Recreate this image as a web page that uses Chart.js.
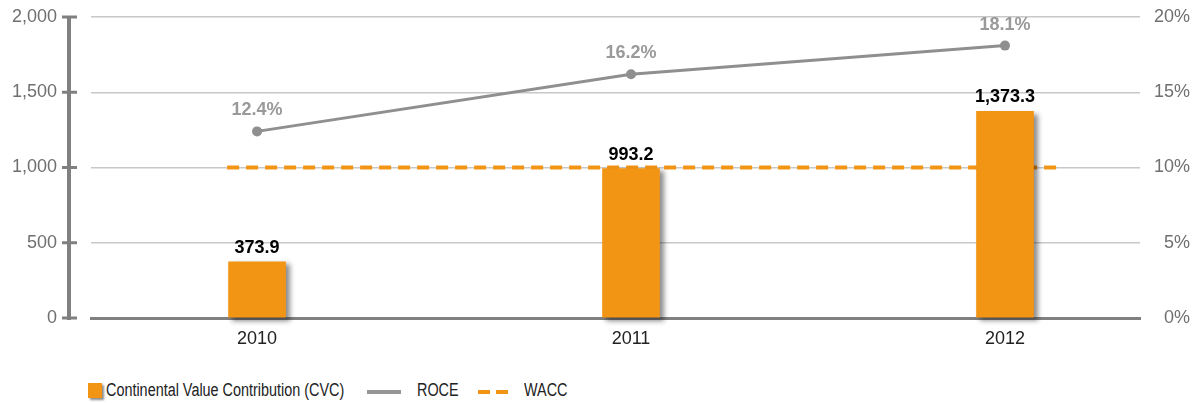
<!DOCTYPE html>
<html>
<head>
<meta charset="utf-8">
<script src="https://cdn.jsdelivr.net/npm/chart.js@4"></script>
<style>
  html, body { margin: 0; padding: 0; background: #fff; }
  #wrap { position: relative; width: 1194px; height: 403px; font-family: "Liberation Sans", Arial, sans-serif; }
  #cvc-chart { position: absolute; left: 0; top: 0; }
  .lg { position: absolute; }
  .lg-text { font-size: 18px; color: #222; top: 380px; transform: scaleX(0.8); transform-origin: left center; white-space: nowrap; }
</style>
</head>
<body>
<div id="wrap">
  <canvas id="cvc-chart" width="1194" height="360"></canvas>
  <div class="lg" style="left:88px; top:383px; width:14px; height:15px; background:#f39514; box-shadow:2px 2px 2px rgba(0,0,0,0.45);"></div>
  <div class="lg lg-text" style="left:106px;">Continental Value Contribution (CVC)</div>
  <div class="lg" style="left:367px; top:390px; width:34px; height:4px; background:#969696;"></div>
  <div class="lg lg-text" style="left:417px;">ROCE</div>
  <div class="lg" style="left:478px; top:390px; width:12px; height:4px; background:#f39514;"></div>
  <div class="lg" style="left:496px; top:390px; width:12px; height:4px; background:#f39514;"></div>
  <div class="lg lg-text" style="left:524px;">WACC</div>
</div>
<script>
const years = ['2010', '2011', '2012'];
const cvc = [373.9, 993.2, 1373.3];       // EUR millions
const roce = [12.4, 16.2, 18.1];          // %
const wacc = 10;                          // %
const waccSpan = [-0.08, 2.15];           // x range of the WACC line (year index units)

const ORANGE = '#f39514';
const GREY = '#8f8f8f';

const fmt = (v, d) => v.toLocaleString('en-US', { minimumFractionDigits: d, maximumFractionDigits: d });

// left axis is drawn a bit away from the plot, with tick marks on both sides
const sideAxis = {
  id: 'sideAxis',
  afterDraw(chart) {
    const { ctx, chartArea, scales } = chart;
    const y = scales.y;
    const x = chartArea.left - 22;
    ctx.save();
    ctx.strokeStyle = '#808080';
    ctx.lineWidth = 4;
    ctx.beginPath();
    ctx.moveTo(x, y.getPixelForValue(2000) - 1);
    ctx.lineTo(x, y.getPixelForValue(0) + 2);
    ctx.stroke();
    ctx.lineWidth = 3;
    y.ticks.forEach(t => {
      const py = y.getPixelForValue(t.value);
      ctx.beginPath();
      ctx.moveTo(x - 7, py);
      ctx.lineTo(x + 8, py);
      ctx.stroke();
    });
    ctx.restore();
  }
};

// drop shadow behind the bars
const barShadow = {
  id: 'barShadow',
  beforeDatasetDraw(chart, args) {
    if (args.meta.type !== 'bar') return;
    const ctx = chart.ctx;
    ctx.save();
    ctx.shadowColor = 'rgba(0,0,0,0.45)';
    ctx.shadowOffsetX = 4;
    ctx.shadowOffsetY = 3;
    ctx.shadowBlur = 5;
  },
  afterDatasetDraw(chart, args) {
    if (args.meta.type !== 'bar') return;
    chart.ctx.restore();
  }
};

// value labels above bars and ROCE points
const valueLabels = {
  id: 'valueLabels',
  afterDatasetsDraw(chart) {
    const ctx = chart.ctx;
    ctx.save();
    ctx.font = 'bold 18px "Liberation Sans", Arial, sans-serif';
    ctx.textAlign = 'center';
    ctx.textBaseline = 'alphabetic';
    chart.getDatasetMeta(0).data.forEach((el, i) => {
      ctx.fillStyle = '#000';
      ctx.fillText(fmt(cvc[i], 1), el.x, el.y - 9);
    });
    chart.getDatasetMeta(1).data.forEach((el, i) => {
      ctx.fillStyle = '#9a9a9a';
      ctx.fillText(fmt(roce[i], 1) + '%', el.x, el.y - 16);
    });
    ctx.restore();
  }
};

const tickFont = { family: '"Liberation Sans", Arial, sans-serif', size: 18 };

new Chart(document.getElementById('cvc-chart'), {
  type: 'bar',
  data: {
    datasets: [
      {
        type: 'bar',
        label: 'Continental Value Contribution (CVC)',
        data: cvc.map((v, i) => ({ x: i, y: v })),
        backgroundColor: ORANGE,
        barThickness: 57,
        yAxisID: 'y',
        clip: false,
        order: 1
      },
      {
        type: 'line',
        label: 'ROCE',
        data: roce.map((v, i) => ({ x: i, y: v })),
        borderColor: GREY,
        backgroundColor: GREY,
        borderWidth: 3,
        pointRadius: 5,
        pointBackgroundColor: GREY,
        pointBorderWidth: 0,
        tension: 0,
        yAxisID: 'y1',
        order: 0
      },
      {
        type: 'line',
        label: 'WACC',
        data: waccSpan.map(x => ({ x, y: wacc })),
        borderColor: ORANGE,
        borderWidth: 4,
        borderDash: [12, 7],
        pointRadius: 0,
        yAxisID: 'y1',
        order: 2
      }
    ]
  },
  options: {
    responsive: false,
    devicePixelRatio: 1,
    animation: false,
    layout: { padding: { top: 17, right: 4, left: 0, bottom: 0 } },
    plugins: { legend: { display: false }, tooltip: { enabled: false } },
    scales: {
      x: {
        type: 'linear',
        offset: false,
        min: -0.444,
        max: 2.361,
        grid: { display: false, drawTicks: false },
        border: { display: true, color: '#808080', width: 3 },
        afterBuildTicks: s => { s.ticks = years.map((_, i) => ({ value: i })); },
        afterFit: s => { s.height = 42; },
        ticks: { padding: 10, color: '#222', font: tickFont, callback: v => years[v] }
      },
      y: {
        position: 'left',
        min: 0,
        max: 2000,
        grid: { color: '#c8c8c8', lineWidth: 1.5, drawTicks: false },
        border: { display: false },
        afterFit: s => { s.width = 91; s.paddingTop = 0; s.paddingBottom = 0; },
        ticks: { stepSize: 500, padding: 34, color: '#6f6f6f', font: tickFont, callback: v => fmt(v, 0) }
      },
      y1: {
        position: 'right',
        min: 0,
        max: 20,
        grid: { display: false, drawTicks: false },
        border: { display: false },
        afterFit: s => { s.width = 50; s.paddingTop = 0; s.paddingBottom = 0; },
        ticks: { stepSize: 5, crossAlign: 'far', color: '#6f6f6f', font: tickFont, callback: v => v + '%' }
      }
    }
  },
  plugins: [sideAxis, barShadow, valueLabels]
});
</script>
</body>
</html>
